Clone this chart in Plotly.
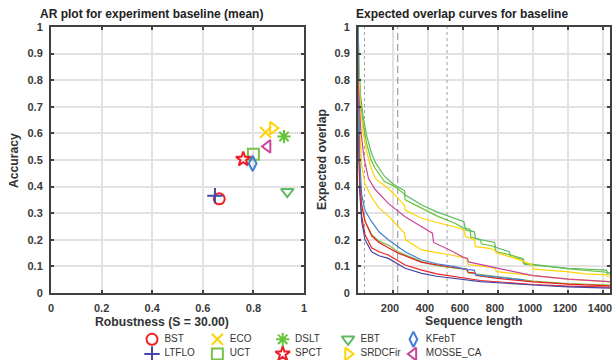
import plotly.graph_objects as go

# ---------------- data ----------------
trackers = ["BST", "LTFLO", "ECO", "UCT", "DSLT",
            "SPCT", "EBT", "SRDCFir", "KFebT", "MOSSE_CA"]
robustness = [0.665, 0.648, 0.848, 0.800, 0.921,
              0.760, 0.934, 0.877, 0.797, 0.856]
accuracy = [0.354, 0.366, 0.604, 0.522, 0.588,
            0.503, 0.381, 0.620, 0.487, 0.551]
colors = ["#ee2424", "#4646a6", "#ffd200", "#79c247", "#66c43a",
          "#ee1c25", "#5fba62", "#ffd400", "#3d7fd2", "#cc4499"]
symbols = ["circle-open", "cross-thin-open", "x-thin-open", "square-open", "asterisk-open",
           "star-open", "triangle-down-open", "triangle-right-open",
           "diamond-tall-open", "triangle-left-open"]

# expected overlap curves: sequence length -> expected overlap
eo_len = {
    "BST":     [1, 3, 10, 21, 40, 78, 120, 173, 269, 364, 450, 554, 700, 1000, 1200, 1440],
    "ECO":     [1, 5, 10, 21, 40, 78, 120, 173, 230, 265, 272, 364, 450, 540, 620, 630, 754, 783, 790, 1000, 1200, 1440],
    "DSLT":    [1, 5, 15, 30, 50, 75, 97, 150, 211, 265, 270, 364, 450, 554, 600, 640, 645, 700, 705, 780, 790, 860, 940, 945, 1000, 1192, 1420, 1425, 1440],
    "EBT":     [1, 5, 15, 30, 50, 75, 100, 150, 200, 265, 270, 364, 450, 554, 605, 615, 665, 672, 780, 786, 865, 872, 945, 950, 1100, 1200, 1420, 1425, 1440],
    "KFebT":   [1, 3, 10, 21, 40, 78, 120, 173, 269, 364, 450, 554, 610, 665, 672, 800, 950],
    "LTFLO":   [1, 3, 10, 21, 40, 78, 120, 173, 269, 364, 450, 554, 700, 1000, 1200, 1440],
    "UCT":     [1, 3, 10, 21, 40, 78, 120, 173, 230, 364, 450, 554, 620, 630, 800, 1000, 1200, 1440],
    "SPCT":    [1, 5, 10, 21, 40, 78, 120, 173, 230, 364, 450, 554, 620, 630, 670, 675, 800, 1000, 1200, 1440],
    "SRDCFir": [1, 5, 15, 30, 50, 75, 100, 173, 230, 265, 270, 364, 450, 554, 605, 615, 665, 672, 754, 783, 790, 900, 995, 1002, 1192, 1300, 1421, 1425, 1440],
    "MOSSE_CA":[1, 5, 15, 30, 40, 60, 97, 173, 269, 364, 425, 432, 530, 600, 625, 632, 754, 1000, 1200, 1440],
}
eo_val = {
    "BST":     [1.0, 0.70, 0.40, 0.29, 0.22, 0.17, 0.155, 0.143, 0.105, 0.086, 0.072, 0.061, 0.047, 0.032, 0.026, 0.022],
    "ECO":     [1.0, 0.78, 0.62, 0.48, 0.41, 0.36, 0.32, 0.29, 0.249, 0.225, 0.20, 0.162, 0.152, 0.142, 0.13, 0.107, 0.097, 0.093, 0.08, 0.065, 0.052, 0.042],
    "DSLT":    [1.0, 0.84, 0.72, 0.63, 0.56, 0.50, 0.47, 0.42, 0.40, 0.372, 0.35, 0.318, 0.29, 0.262, 0.245, 0.24, 0.21, 0.20, 0.185, 0.175, 0.155, 0.145, 0.13, 0.112, 0.107, 0.092, 0.078, 0.072, 0.071],
    "EBT":     [1.0, 0.85, 0.74, 0.66, 0.59, 0.53, 0.49, 0.44, 0.41, 0.385, 0.368, 0.331, 0.305, 0.281, 0.268, 0.237, 0.230, 0.205, 0.19, 0.172, 0.155, 0.136, 0.127, 0.108, 0.098, 0.093, 0.086, 0.078, 0.077],
    "KFebT":   [1.0, 0.75, 0.50, 0.37, 0.31, 0.268, 0.23, 0.20, 0.155, 0.124, 0.11, 0.099, 0.09, 0.085, 0.068, 0.058, 0.049],
    "LTFLO":   [1.0, 0.68, 0.38, 0.27, 0.20, 0.155, 0.14, 0.13, 0.093, 0.074, 0.063, 0.055, 0.043, 0.030, 0.023, 0.018],
    "UCT":     [1.0, 0.72, 0.45, 0.33, 0.27, 0.22, 0.195, 0.18, 0.155, 0.118, 0.103, 0.093, 0.088, 0.075, 0.06, 0.045, 0.035, 0.03],
    "SPCT":    [0.60, 0.50, 0.42, 0.33, 0.27, 0.215, 0.19, 0.17, 0.15, 0.115, 0.105, 0.095, 0.09, 0.078, 0.075, 0.066, 0.055, 0.042, 0.033, 0.027],
    "SRDCFir": [1.0, 0.82, 0.69, 0.60, 0.53, 0.47, 0.43, 0.393, 0.356, 0.33, 0.312, 0.281, 0.265, 0.249, 0.237, 0.212, 0.20, 0.174, 0.168, 0.16, 0.151, 0.13, 0.105, 0.09, 0.08, 0.072, 0.068, 0.062, 0.061],
    "MOSSE_CA":[0.79, 0.72, 0.62, 0.53, 0.49, 0.43, 0.39, 0.337, 0.287, 0.249, 0.225, 0.19, 0.16, 0.135, 0.13, 0.117, 0.10, 0.065, 0.052, 0.043],
}

interval_bounds = [37, 509]   # dotted lines
peak_length = 227             # dashed line

ar_xticks = [0, 0.2, 0.4, 0.6, 0.8, 1]
ar_xtext = ["0", "0.2", "0.4", "0.6", "0.8", "1"]
eo_xticks = [200, 400, 600, 800, 1000, 1200, 1400]
yticks = [0, 0.1, 0.2, 0.3, 0.4, 0.5, 0.6, 0.7, 0.8, 0.9, 1]
ytext = ["0", "0.1", "0.2", "0.3", "0.4", "0.5", "0.6", "0.7", "0.8", "0.9", "1"]

# ---------------- figure ----------------
W, H = 612, 360
FONT = "Liberation Sans, Arial, sans-serif"
AX = "#404040"
GRID = "#e2e2e2"

fig = go.Figure()

# expected overlap curves
for i, name in enumerate(trackers):
    fig.add_trace(go.Scatter(
        x=eo_len[name], y=eo_val[name], mode="lines",
        line=dict(color=colors[i], width=1.2),
        xaxis="x2", yaxis="y2", showlegend=False, hoverinfo="skip"))

# AR points
for i, name in enumerate(trackers):
    fig.add_trace(go.Scatter(
        x=[robustness[i]], y=[accuracy[i]], mode="markers", name=name,
        marker=dict(symbol=symbols[i], size=11, color=colors[i],
                    line=dict(color=colors[i], width=2)),
        xaxis="x", yaxis="y", cliponaxis=False, showlegend=False))

# legend: two rows, column-major order, in a hidden helper axis
leg_col = [i // 2 for i in range(len(trackers))]
leg_row = [i % 2 for i in range(len(trackers))]
fig.add_trace(go.Scatter(
    x=leg_col, y=leg_row, mode="markers",
    marker=dict(symbol=symbols, size=11, color=colors, line=dict(color=colors, width=2)),
    xaxis="x3", yaxis="y3", cliponaxis=False, showlegend=False, hoverinfo="skip"))
fig.add_trace(go.Scatter(
    x=[c + 0.19 for c in leg_col], y=leg_row, mode="text", text=trackers,
    textposition="middle right",
    textfont=dict(family=FONT, size=10, color="#333333"),
    xaxis="x3", yaxis="y3", cliponaxis=False, showlegend=False, hoverinfo="skip"))


def px_x(p):
    return p / W


def px_y(p):
    return 1 - p / H


common_axis = dict(
    showline=True, linecolor=AX, linewidth=2, mirror="ticks",
    ticks="inside", ticklen=3, tickwidth=2, tickcolor=AX,
    showgrid=True, gridcolor=GRID, gridwidth=2, zeroline=False,
    tickfont=dict(family=FONT, size=11, color="#3a3a3a", weight="bold"),
    ticklabelstandoff=4, automargin=False, ticklabeloverflow="allow",
)

fig.update_layout(
    width=W, height=H, autosize=False,
    margin=dict(l=0, r=0, t=0, b=0, pad=0),
    paper_bgcolor="white", plot_bgcolor="white",
    font=dict(family=FONT),
    showlegend=False,
    xaxis=dict(domain=[px_x(51), px_x(304)], range=[0, 1], tickvals=ar_xticks,
               ticktext=ar_xtext, anchor="y", **common_axis),
    yaxis=dict(domain=[px_y(293), px_y(27)], range=[0, 1], tickvals=yticks,
               ticktext=ytext, anchor="x", **common_axis),
    xaxis2=dict(domain=[px_x(358), px_x(610)], range=[0, 1440], tickvals=eo_xticks,
                anchor="y2", ticklabelshift=-3, **common_axis),
    yaxis2=dict(domain=[px_y(293), px_y(27)], range=[0, 1], tickvals=yticks,
                ticktext=ytext, anchor="x2", **common_axis),
    xaxis3=dict(domain=[px_x(152), px_x(152 + 65.35 * 5)], range=[0, 5], visible=False,
                fixedrange=True),
    yaxis3=dict(domain=[px_y(354), px_y(339.3)], range=[1, 0], visible=False, fixedrange=True,
                anchor="x3"),
)

# reference lines in the expected overlap plot
for b in interval_bounds:
    fig.add_shape(type="line", xref="x2", yref="y2", x0=b, x1=b, y0=0, y1=1,
                  line=dict(color="#a0a0a0", width=1, dash="dot"), layer="between")
fig.add_shape(type="line", xref="x2", yref="y2", x0=peak_length, x1=peak_length, y0=0, y1=1,
              line=dict(color="#8c8c8c", width=1, dash="7px,4px"), layer="between")


def ann(text, x, y, size=12, angle=0, color="#333333"):
    fig.add_annotation(text=text, xref="paper", yref="paper", x=px_x(x), y=px_y(y),
                       showarrow=False, textangle=angle, xanchor="center", yanchor="middle",
                       font=dict(family=FONT, size=size, color=color, weight="bold"))


ann("AR plot for experiment baseline (mean)", 151, 14.5, size=12, color="#222222")
ann("Expected overlap curves for baseline", 462, 14.5, size=12, color="#222222")
ann("Robustness (S = 30.00)", 162, 322, size=12.2)
ann("Sequence length", 474, 321, size=12.2)
ann("Accuracy", 14, 160, size=12.2, angle=-90)
ann("Expected overlap", 322, 160, size=12.2, angle=-90)

fig.write_html("out.html")
